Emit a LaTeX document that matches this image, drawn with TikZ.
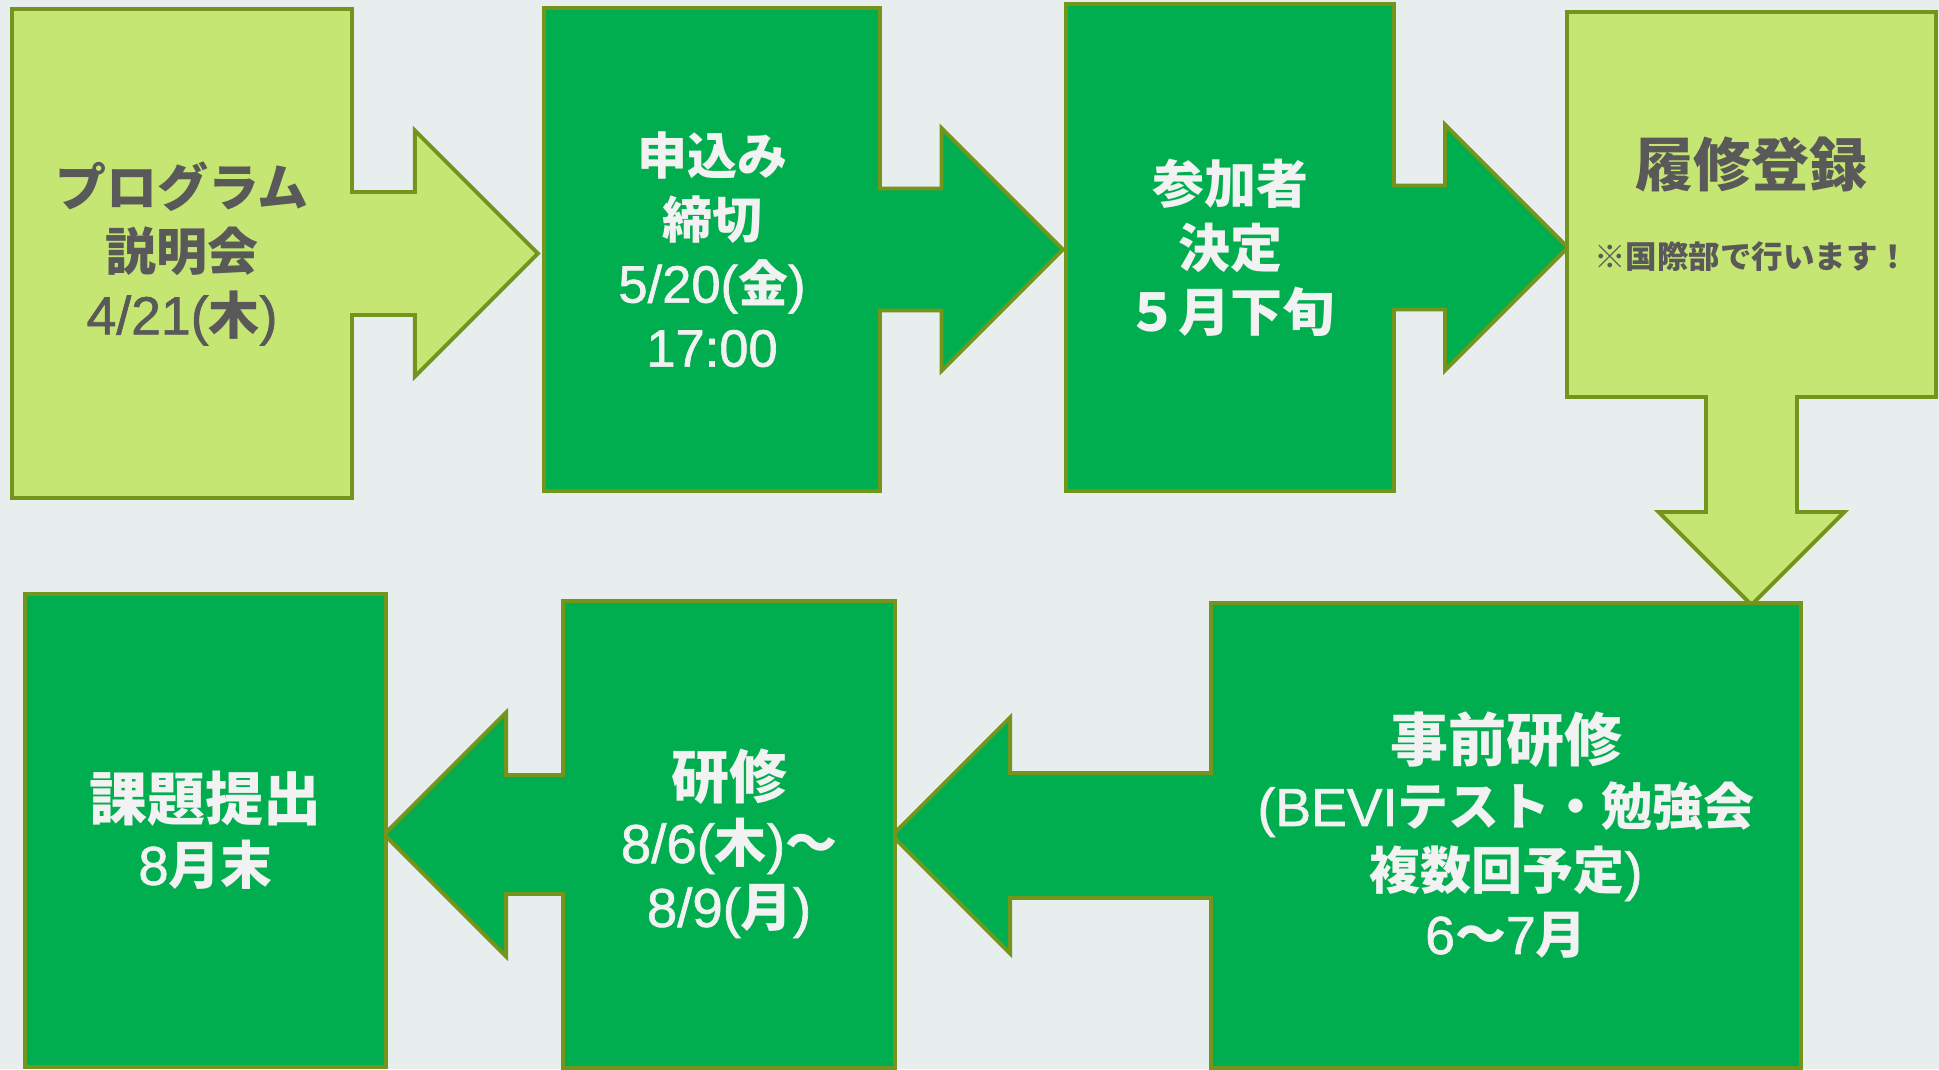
\documentclass[tikz,border=0pt]{standalone}
\usepackage{fontspec}
\setmainfont{Noto Sans CJK JP}
\newfontfamily\latinfont{Liberation Sans}[Scale=1.05,FakeBold=1.2]
\usetikzlibrary{shapes.arrows}

\definecolor{pagebg}{HTML}{E8EEED}
\definecolor{palegreen}{HTML}{C5E673}
\definecolor{richgreen}{HTML}{00AE50}
\definecolor{olivegreen}{HTML}{73951C}
\definecolor{graytext}{HTML}{595959}
\definecolor{whitetext}{HTML}{F2F2F2}

\newcommand{\ltn}[1]{{\latinfont\mdseries #1}}

\begin{document}
\begin{tikzpicture}[x=1pt,y=-1pt,
  step box/.style={arrow box,draw=olivegreen,line width=3.8pt,inner sep=0pt,align=center,
    arrow box tip angle=90,arrow box north arrow=-1pt,arrow box south arrow=-1pt,
    arrow box east arrow=-1pt,arrow box west arrow=-1pt},
  pale node/.style={step box,fill=palegreen,text=graytext},
  green node/.style={step box,fill=richgreen,text=whitetext}]

  \path[use as bounding box,fill=pagebg] (0,0) rectangle (1939,1069);

  \node[pale node,minimum width=340pt,minimum height=489pt,
    arrow box shaft width=123pt,arrow box head extend=61.5pt,arrow box east arrow=184pt,
    font={\fontsize{51pt}{64pt}\selectfont\bfseries}] (PS) at (182,253.5)
    {プログラム\\説明会\\\ltn{4/21(}木\ltn{)}};
  \node[green node,minimum width=336pt,minimum height=483pt,
    arrow box shaft width=122pt,arrow box head extend=60.5pt,arrow box east arrow=181pt,
    font={\fontsize{50pt}{64pt}\selectfont\bfseries}] (DL) at (712,249.5)
    {申込み\\締切\\\ltn{5/20(}金\ltn{)}\\\ltn{17:00}};
  \node[green node,minimum width=328pt,minimum height=487pt,
    arrow box shaft width=124pt,arrow box head extend=61pt,arrow box east arrow=172pt,
    font={\fontsize{52pt}{64pt}\selectfont\bfseries}] (PD) at (1230,247.5)
    {参加者\\決定\\５月下旬};
  \node[pale node,minimum width=369pt,minimum height=385pt,
    arrow box shaft width=91pt,arrow box head extend=47.5pt,arrow box south arrow=206pt,
    font={\fontsize{58pt}{82pt}\selectfont\bfseries}] (REG) at (1751.5,204.5)
    {履修登録\\{\fontsize{31.5pt}{35pt}\selectfont ※国際部で行います！}};
  \node[green node,minimum width=590pt,minimum height=465pt,
    arrow box shaft width=125pt,arrow box head extend=55.5pt,arrow box west arrow=317pt,
    font={\fontsize{51pt}{64pt}\selectfont\bfseries}] (PRE) at (1506,835.5)
    {{\fontsize{58pt}{64pt}\selectfont 事前研修}\\\ltn{(BEVI}テスト・勉強会\\複数回予定\ltn{)}\\\ltn{6}～\ltn{7}月};
  \node[green node,minimum width=332pt,minimum height=467pt,
    arrow box shaft width=119pt,arrow box head extend=62.5pt,arrow box west arrow=177pt,
    font={\fontsize{52pt}{64pt}\selectfont\bfseries}] (TR) at (729,834.5)
    {{\fontsize{58pt}{64pt}\selectfont\rule{0pt}{68pt}研修}\\\ltn{8/6(}木\ltn{)}～\\\ltn{8/9(}月\ltn{)}};
  \node[green node,minimum width=361pt,minimum height=473pt,
    font={\fontsize{52pt}{64pt}\selectfont\bfseries}] (REP) at (205.5,830.5)
    {{\fontsize{58pt}{64pt}\selectfont 課題提出}\\\ltn{8}月末};

\end{tikzpicture}
\end{document}
